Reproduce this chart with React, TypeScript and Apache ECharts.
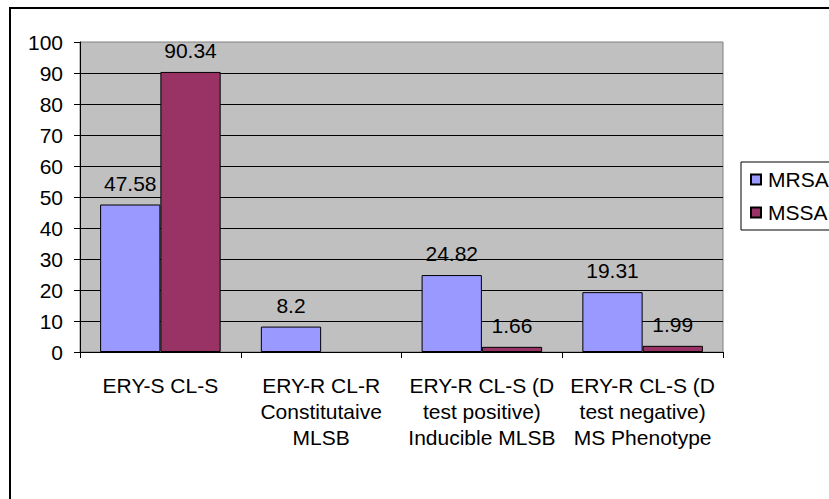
import React, { useEffect, useRef } from "react";
import * as echarts from "echarts";

const categories = [
  "ERY-S CL-S",
  "ERY-R CL-R\nConstitutaive\nMLSB",
  "ERY-R CL-S (D\ntest positive)\nInducible MLSB",
  "ERY-R CL-S (D\ntest negative)\nMS Phenotype",
];
const mrsaValues: (number | null)[] = [47.58, 8.2, 24.82, 19.31];
const mssaValues: (number | null)[] = [90.34, null, 1.66, 1.99];
const seriesNames = ["MRSA", "MSSA"];
const yMin = 0;
const yMax = 100;
const yInterval = 10;

const FONT = "'Liberation Sans', Arial, sans-serif";
const FS = 21;

export default function App() {
  const ref = useRef<HTMLDivElement>(null);

  useEffect(() => {
    if (!ref.current) return;
    const chart = echarts.init(ref.current, undefined, { renderer: "svg" });
    const labelCfg = {
      show: true,
      position: "top",
      distance: 11,
      color: "#000",
      fontSize: FS,
      fontFamily: FONT,
    };
    chart.setOption({
      animation: false,
      backgroundColor: "#fff",
      textStyle: { fontFamily: FONT },
      graphic: [
        {
          type: "rect",
          shape: { x: 10, y: 8, width: 900, height: 600 },
          style: { fill: "none", stroke: "#000", lineWidth: 2 },
          silent: true,
          z: 100,
        },
      ],
      grid: {
        left: 80,
        right: 106,
        top: 42,
        bottom: 147,
        show: true,
        backgroundColor: "#C0C0C0",
        borderColor: "#808080",
        borderWidth: 1,
      },
      legend: {
        orient: "vertical",
        left: 741,
        top: 162,
        data: seriesNames,
        icon: "rect",
        itemWidth: 10,
        itemHeight: 10,
        itemGap: 12,
        padding: [7, 10, 7, 9],
        borderColor: "#000",
        borderWidth: 1,
        backgroundColor: "#fff",
        textStyle: {
          fontSize: FS,
          color: "#000",
          fontFamily: FONT,
          padding: [0, 0, 0, 2],
        },
      },
      xAxis: {
        type: "category",
        data: categories,
        axisLine: { show: true, lineStyle: { color: "#000", width: 1 } },
        axisTick: { show: true, length: 6, lineStyle: { color: "#000" } },
        axisLabel: {
          margin: 20,
          fontSize: FS,
          lineHeight: 26,
          color: "#000",
          fontFamily: FONT,
          interval: 0,
          align: "center",
        },
        splitLine: { show: false },
      },
      yAxis: {
        type: "value",
        min: yMin,
        max: yMax,
        interval: yInterval,
        axisLine: { show: true, lineStyle: { color: "#000", width: 1 } },
        axisTick: { show: true, length: 6, lineStyle: { color: "#000" } },
        axisLabel: {
          margin: 17,
          fontSize: FS,
          color: "#000",
          fontFamily: FONT,
        },
        splitLine: {
          show: true,
          showMaxLine: false,
          lineStyle: { color: "#000", width: 1 },
        },
      },
      series: [
        {
          name: seriesNames[0],
          type: "bar",
          data: mrsaValues,
          barGap: "0%",
          barCategoryGap: "25%",
          itemStyle: { color: "#9999FF", borderColor: "#000", borderWidth: 1 },
          label: labelCfg,
        },
        {
          name: seriesNames[1],
          type: "bar",
          data: mssaValues,
          barGap: "0%",
          barCategoryGap: "25%",
          itemStyle: { color: "#993366", borderColor: "#000", borderWidth: 1 },
          label: labelCfg,
        },
      ],
    });
    return () => chart.dispose();
  }, []);

  return (
    <div
      ref={ref}
      style={{ position: "absolute", left: 0, top: 0, width: 829, height: 499 }}
    />
  );
}
